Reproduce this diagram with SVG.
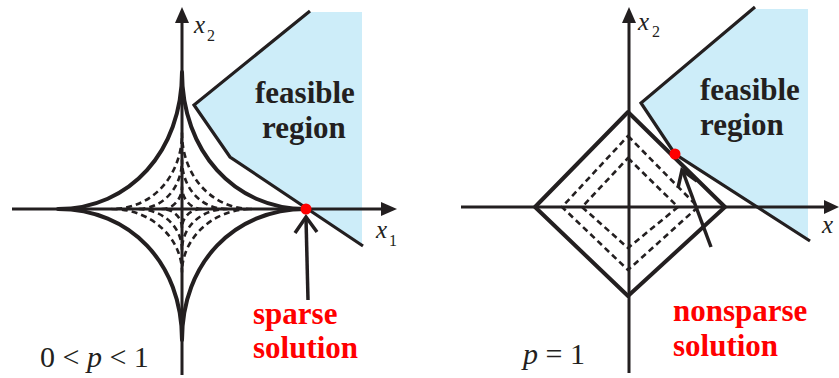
<svg xmlns="http://www.w3.org/2000/svg" width="839" height="378" viewBox="0 0 839 378">
<style>
.ax{stroke:#231f20;stroke-width:3;fill:none}
.bd{stroke:#231f20;stroke-width:3.2;fill:none;stroke-linejoin:miter}
.sol{stroke:#231f20;stroke-width:4;fill:none;stroke-linejoin:round}
.dash{stroke:#231f20;stroke-width:2.6;fill:none;stroke-dasharray:6 4;stroke-linejoin:round}
.feas{fill:#cdedf9}
text{font-family:'Liberation Serif','DejaVu Serif','Noto Serif',serif}
.lab{font-weight:bold;font-size:31px;fill:#231f20}
.red{font-weight:bold;font-size:31px;fill:#ff0000}
.math{font-size:30px;fill:#231f20}
.var{font-style:italic;font-size:25px;fill:#231f20}
.sub{font-size:16px;fill:#231f20}
.arw{stroke:#231f20;stroke-width:3.5;fill:none;stroke-linejoin:miter}
.tri{fill:#231f20}
</style>

<g id="left-panel">
  <g id="left-feasible">
    <polygon class="feas" points="308,12 362,12 362,246 230,157 194,105"/>
    <polyline class="bd" points="310,11 194,105 230,157 363,246"/>
    <text class="lab" x="255" y="103" font-family="Liberation Serif, serif">feasible</text>
    <text class="lab" x="262" y="138" font-family="Liberation Serif, serif">region</text>
  </g>
  <g id="left-axes">
    <line class="ax" x1="182" y1="20" x2="182" y2="375"/>
    <polygon class="tri" points="182,7 175,23 189,23"/>
    <line class="ax" x1="12" y1="209" x2="384" y2="209"/>
    <polygon class="tri" points="397,209 381,202 381,216"/>
    <text class="var" x="194" y="33" font-family="Liberation Serif, serif">x</text><text class="sub" x="207" y="41" font-family="Liberation Serif, serif">2</text>
    <text class="var" x="376" y="238" font-family="Liberation Serif, serif">x</text><text class="sub" x="389" y="246" font-family="Liberation Serif, serif">1</text>
  </g>
  <g id="left-balls">
    <path class="sol" d="M306,209 C234,209 182,151 182,72 C182,151 130,209 58,209 C130,209 182,263 182,340 C182,263 234,209 306,209 Z"/>
    <path class="dash" d="M252,209 C211,209 182,175 182,133 C182,175 153,209 112,209 C153,209 182,240 182,272 C182,240 211,209 252,209 Z"/>
    <path class="dash" d="M227,209 C201,209 182,188 182,160 C182,188 163,209 137,209 C163,209 182,227 182,250 C182,227 201,209 227,209 Z"/>
    <path class="dash" d="M202,209 C190,209 182,198 182,187 C182,198 174,209 162,209 C174,209 182,218 182,228 C182,218 190,209 202,209 Z"/>
  </g>
  <g id="left-solution">
    <circle cx="306" cy="209" r="5.5" fill="#ff0000"/>
    <line class="arw" x1="308" y1="300" x2="306" y2="218"/>
    <polyline class="arw" points="295,233 306,217 317,232"/>
    <text class="red" x="253" y="324" font-family="Liberation Serif, serif">sparse</text>
    <text class="red" x="253" y="358" font-family="Liberation Serif, serif">solution</text>
  </g>
  <text class="math" x="40" y="367" font-family="Liberation Serif, serif">0 &lt; <tspan font-style="italic">p</tspan> &lt; 1</text>
</g>

<g id="right-panel">
  <g id="right-feasible">
    <polygon class="feas" points="753,9 808,9 808,240 675,154 641,103"/>
    <polyline class="bd" points="755,7 641,103 675,154 810,241"/>
    <text class="lab" x="700" y="100" font-family="Liberation Serif, serif">feasible</text>
    <text class="lab" x="700" y="135" font-family="Liberation Serif, serif">region</text>
  </g>
  <g id="right-axes">
    <line class="ax" x1="629" y1="20" x2="629" y2="373"/>
    <polygon class="tri" points="629,7 622,23 636,23"/>
    <line class="ax" x1="461" y1="207" x2="828" y2="207"/>
    <polygon class="tri" points="839,207 824,200 824,214"/>
    <text class="var" x="638" y="30" font-family="Liberation Serif, serif">x</text><text class="sub" x="652" y="37" font-family="Liberation Serif, serif">2</text>
    <text class="var" x="822" y="233" font-family="Liberation Serif, serif">x</text>
  </g>
  <g id="right-balls">
    <polygon class="sol" points="628,112 725,207 628,296 535,207" stroke-linejoin="miter"/>
    <polygon class="dash" points="628,136 698,207 628,270 562,207"/>
    <polygon class="dash" points="628,158 678,207 628,248 582,207"/>
  </g>
  <g id="right-solution">
    <circle cx="675" cy="154" r="5.5" fill="#ff0000"/>
    <line class="arw" x1="711" y1="247" x2="683" y2="172"/>
    <polyline class="arw" points="678,188 682,170 697,181"/>
    <text class="red" x="673" y="321" font-family="Liberation Serif, serif">nonsparse</text>
    <text class="red" x="673" y="356" font-family="Liberation Serif, serif">solution</text>
  </g>
  <text class="math" x="523" y="364" font-family="Liberation Serif, serif"><tspan font-style="italic">p</tspan> = 1</text>
</g>
</svg>
